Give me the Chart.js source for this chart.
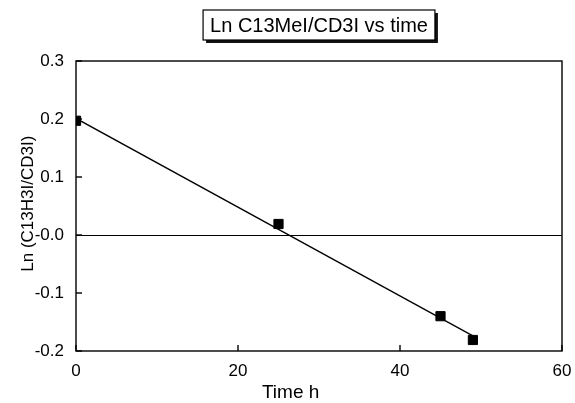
<!DOCTYPE html>
<html>
<head>
<meta charset="utf-8">
<script src="https://cdn.jsdelivr.net/npm/chart.js@4/dist/chart.umd.min.js"></script>
<style>
  html, body { margin: 0; padding: 0; background: #fff; }
  #grafico { display: block; }
</style>
</head>
<body>
<canvas id="grafico" width="575" height="403"></canvas>
<script>
// dati
const tempi = [0, 25, 45, 49];
const lnRapporto = [0.197, 0.019, -0.14, -0.181];
// retta di regressione (estremi)
const tempiRetta = [0, 49];
const valoriRetta = [0.201, -0.174];
const xTicks = [0, 20, 40, 60];
const yTicks = [-0.2, -0.1, 0, 0.1, 0.2, 0.3];
const yTickLabels = ['-0.2', '-0.1', '-0.0', '0.1', '0.2', '0.3'];

const titolo = 'Ln C13MeI/CD3I vs time';
const titoloX = 'Time h';
const titoloY = 'Ln (C13H3I/CD3I)';
const font = '"Liberation Sans", Arial, sans-serif';

// riquadro, tacche interne, linea dello zero, titoli
const decorazioni = {
    id: 'decorazioni',
    afterDraw(chart) {
        const ctx = chart.ctx;
        const a = chart.chartArea;
        const sx = chart.scales.x;
        const sy = chart.scales.y;
        ctx.save();
        ctx.strokeStyle = '#000';
        ctx.lineWidth = 1.4;
        ctx.strokeRect(a.left, a.top, a.right - a.left, a.bottom - a.top);

        // linea dello zero
        const y0 = Math.round(sy.getPixelForValue(0)) + 0.5;
        ctx.lineWidth = 1.2;
        ctx.beginPath();
        ctx.moveTo(a.left, y0);
        ctx.lineTo(a.right, y0);
        ctx.stroke();

        // tacche verso l'interno
        ctx.lineWidth = 1.4;
        yTicks.forEach(v => {
            const p = sy.getPixelForValue(v);
            ctx.beginPath();
            ctx.moveTo(a.left, p);
            ctx.lineTo(a.left + 6, p);
            ctx.stroke();
        });
        xTicks.forEach(v => {
            const p = sx.getPixelForValue(v);
            ctx.beginPath();
            ctx.moveTo(p, a.bottom);
            ctx.lineTo(p, a.bottom - 6);
            ctx.stroke();
        });

        ctx.fillStyle = '#000';
        ctx.textAlign = 'center';
        ctx.textBaseline = 'middle';

        // titolo asse x
        ctx.font = '19px ' + font;
        ctx.fillText(titoloX, sx.getPixelForValue(26.5), 393);

        // titolo asse y
        ctx.save();
        ctx.translate(28, sy.getPixelForValue(0.054));
        ctx.rotate(-Math.PI / 2);
        ctx.font = '17px ' + font;
        ctx.fillText(titoloY, 0, 0);
        ctx.restore();

        // titolo con riquadro ombreggiato
        ctx.font = '20px ' + font;
        const w = ctx.measureText(titolo).width + 14;
        const cx = (a.left + a.right) / 2;
        const bx = cx - w / 2, by = 10, bh = 30;
        ctx.fillStyle = '#111';
        ctx.fillRect(bx + 3, by + 3, w, bh);
        ctx.fillStyle = '#fff';
        ctx.fillRect(bx, by, w, bh);
        ctx.lineWidth = 1.2;
        ctx.strokeRect(bx, by, w, bh);
        ctx.fillStyle = '#000';
        ctx.fillText(titolo, cx, by + bh / 2 + 1);
        ctx.restore();
    }
};

const ctx = document.getElementById('grafico').getContext('2d');
new Chart(ctx, {
    type: 'scatter',
    data: {
        datasets: [
            {
                data: tempi.map((t, i) => ({ x: t, y: lnRapporto[i] })),
                backgroundColor: '#000',
                borderColor: '#000',
                pointStyle: 'rect',
                pointRadius: 6.5,
                showLine: false
            },
            {
                data: tempiRetta.map((t, i) => ({ x: t, y: valoriRetta[i] })),
                borderColor: '#000',
                borderWidth: 1.3,
                pointRadius: 0,
                showLine: true
            }
        ]
    },
    plugins: [decorazioni],
    options: {
        responsive: false,
        animation: false,
        layout: { padding: { left: 0, right: 13, top: 61, bottom: 0 } },
        plugins: {
            legend: { display: false },
            tooltip: { enabled: false }
        },
        scales: {
            x: {
                type: 'linear',
                min: 0,
                max: 60,
                afterBuildTicks: s => { s.ticks = xTicks.map(v => ({ value: v })); },
                afterFit: s => { s.height = 52; s.paddingLeft = 0; s.paddingRight = 0; },
                grid: { display: false, drawTicks: false },
                border: { display: false },
                ticks: {
                    color: '#000',
                    padding: 10,
                    font: { family: font, size: 17 },
                    callback: v => String(v)
                }
            },
            y: {
                type: 'linear',
                min: -0.2,
                max: 0.3,
                afterBuildTicks: s => { s.ticks = yTicks.map(v => ({ value: v })); },
                afterFit: s => { s.width = 76; s.paddingTop = 0; s.paddingBottom = 0; },
                grid: { display: false, drawTicks: false },
                border: { display: false },
                ticks: {
                    color: '#000',
                    padding: 12,
                    font: { family: font, size: 17 },
                    callback: (v, i) => yTickLabels[i]
                }
            }
        }
    }
});
</script>
</body>
</html>
